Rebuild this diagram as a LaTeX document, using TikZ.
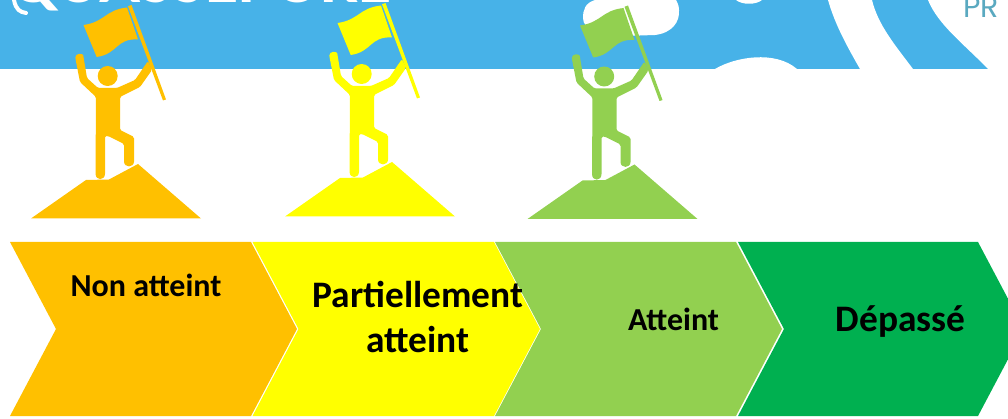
\documentclass[tikz,border=0pt]{standalone}
\usepackage{fontspec}
\setmainfont{Carlito}
\newfontfamily\logofont{Poppins}
\definecolor{band}{HTML}{47B2E8}
\definecolor{cOrange}{HTML}{FFC000}
\definecolor{cYellow}{HTML}{FFFF00}
\definecolor{cLight}{HTML}{92D050}
\definecolor{cGreen}{HTML}{00B050}
\definecolor{logoteal}{HTML}{5AA9C0}
\tikzset{
  x=1pt,y=-1pt,
  chevron/.style={fill=#1,draw=none},
  lab/.style={text=black,align=center,inner sep=0pt},
  climber/.pic={
    \fill[pic actions] (31,218.5)--(86,180)--(109,179.5)--(138,164)--(201,218.5)--cycle;
    \fill[pic actions,rounded corners=1.5pt] (75.5,59) .. controls (75,53) and (83,53) .. (83.5,57)
      -- (87,78) -- (98,88) -- (117,88) -- (135,80) -- (148,61) -- (152,70) -- (140,87) -- (120,97)
      -- (120,130) -- (134,137) -- (134,160) .. controls (134,168) and (124,168) .. (124,160)
      -- (124,144) -- (108,136) -- (105,136) -- (105,172) .. controls (105,181) and (95.5,181) .. (95.5,172)
      -- (96,97) -- (80,82) -- cycle;
    \fill[pic actions] (107.7,76) circle[radius=10];
    \fill[pic actions] (83.5,25) .. controls (105,22) and (105,10) .. (127,7.5)
      -- (138,39.5) .. controls (116,38) and (118,54) .. (96.7,57) -- cycle;
    \fill[pic actions] (128,6.2)--(131.5,5)--(166,99.5)--(163,100.5)--cycle;
  }
}
\begin{document}
\begin{tikzpicture}
\useasboundingbox (0,0) rectangle (1008,419);
\fill[white] (0,0) rectangle (1008,419);
\begin{scope}
\clip (0,0) rectangle (1008,69);
\fill[band] (0,0) rectangle (1008,69);
\node[font=\bfseries\fontsize{68}{68}\selectfont,text=white,anchor=base west,inner sep=0pt] (logo) at (10,2.5) {QUASSEPORE};
\draw[white,line width=4pt,line cap=round] (14,0) .. controls (16,10) and (20,12) .. (26,13);
\fill[white] (595,0) .. controls (585,3) and (583,10) .. (583,18) .. controls (583,30) and (600,36) .. (625,36)
  -- (655,35) .. controls (672,33) and (680,22) .. (679,10) .. controls (679,5) and (677,2) .. (676,0) -- cycle;
\fill[white] (715,69) .. controls (735,57) and (775,50) .. (797,69) -- cycle;
\fill[white] (736,0) .. controls (742,5) and (756,5) .. (762,0) -- cycle;
\fill[white] (828,0) .. controls (835,25) and (848,48) .. (860,69) -- (913,69) .. controls (895,45) and (878,25) .. (872,0) -- cycle;
\fill[white] (928,0) .. controls (938,25) and (965,45) .. (988,69) -- (1008,69) -- (1008,0) -- cycle;
\node[font=\logofont\fontsize{30}{30}\selectfont,text=logoteal,anchor=base west,inner sep=0pt] (pr) at (963,18) {PR};
\end{scope}
\pic[color=cOrange,fill=cOrange] (f1) at (0,0) {climber};
\pic[color=cYellow,fill=cYellow] (f2) at (254,-2) {climber};
\pic[color=cLight,fill=cLight] (f3) at (496.5,0.5) {climber};
\begin{scope}
\clip (0,0) rectangle (1008,419);
\fill[chevron=cOrange] (10,242)--(251,242)--(297,329)--(251,416)--(10,416)--(56,329)--cycle;
\fill[chevron=cYellow] (252.5,242)--(494,242)--(540,329)--(494,416)--(252.5,416)--(298.5,329)--cycle;
\fill[chevron=cLight] (495,242)--(736,242)--(782,329)--(736,416)--(495,416)--(541,329)--cycle;
\fill[chevron=cGreen] (738,242)--(978,242)--(1024,329)--(978,416)--(738,416)--(784,329)--cycle;
\end{scope}
\node[lab,font=\bfseries\fontsize{32}{32}\selectfont] (n1) at (146,285.5) {Non atteint};
\node[lab,font=\bfseries\fontsize{37.4}{45}\selectfont] (n2) at (418,316.5) {Partiellement\\atteint};
\node[lab,font=\bfseries\fontsize{32}{32}\selectfont] (n3) at (673.5,319) {Atteint};
\node[lab,font=\bfseries\fontsize{37.4}{37.4}\selectfont] (n4) at (900.5,321.5) {Dépassé};
\end{tikzpicture}
\end{document}
